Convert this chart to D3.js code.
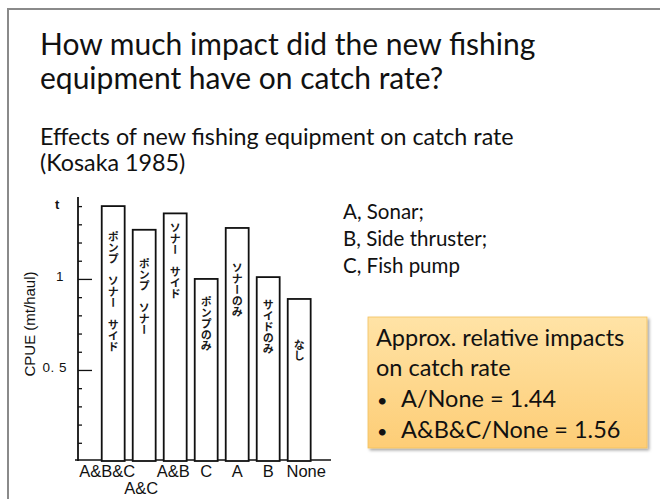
<!DOCTYPE html>
<html>
<head>
<meta charset="utf-8">
<script src="https://cdn.jsdelivr.net/npm/d3@7"></script>
<style>
  body { margin: 0; background: #fff; }
  svg { display: block; }
  .slide { font-family: Lato, "Open Sans", sans-serif; fill: #111; }
  .scan { font-family: "Liberation Sans", Arial, sans-serif; fill: #111; }
  .jp { font-family: "Noto Sans CJK JP", sans-serif; fill: #1a1a1a; }
</style>
</head>
<body>
<div id="chart"></div>
<script>
// categories along the x axis (second row label for A&C)
var cats = ["A&B&C", "A&C", "A&B", "C", "A", "B", "None"];
// CPUE values (mt/haul)
var cpue = [1.40, 1.27, 1.36, 1.00, 1.28, 1.01, 0.89];
// japanese labels written inside the bars
var jpLabels = ["ポンプ　ソナー　サイド", "ポンプ　ソナー", "ソナー　サイド", "ポンプのみ", "ソナーのみ", "サイドのみ", "なし"];
// y ticks
var minorTicks = [0.1, 0.2, 0.3, 0.4, 0.6, 0.7, 0.8, 0.9, 1.1, 1.2, 1.3, 1.4];
var majorTicks = [0.5, 1];
var tickText = ["0. 5", "1"];
// legend + notes text
var legendLines = ["A, Sonar;", "B, Side thruster;", "C, Fish pump"];
var boxHead = ["Approx. relative impacts", "on catch rate"];
var boxBullets = ["A/None = 1.44", "A&B&C/None = 1.56"];

// layout nudges (px) - where the scan put the inner text / labels
var jpDy = [25, 29, 9, 17, 34, 22, 40];
var labelDx = [-6, -3, -2, 0, 0, 0, 7];

var W = 660, H = 499;

var svg = d3.select("#chart").append("svg")
    .attr("width", W)
    .attr("height", H);

// gradient + shadow for the note box
var defs = svg.append("defs");
var grad = defs.append("linearGradient").attr("id", "gold")
    .attr("x1", 0).attr("y1", 0).attr("x2", 0).attr("y2", 1);
grad.append("stop").attr("offset", "0%").attr("stop-color", "#ffe3a6");
grad.append("stop").attr("offset", "100%").attr("stop-color", "#fdcd76");
var sh = defs.append("filter").attr("id", "shadow")
    .attr("x", "-10%").attr("y", "-10%").attr("width", "130%").attr("height", "130%");
sh.append("feDropShadow").attr("dx", 2).attr("dy", 2).attr("stdDeviation", 1.5)
    .attr("flood-color", "#000").attr("flood-opacity", 0.35);

// slide frame (cut off at right and bottom)
svg.append("rect")
    .attr("x", 8).attr("y", 9)
    .attr("width", W + 20).attr("height", H + 20)
    .attr("fill", "#fff")
    .attr("stroke", "#8a8a8a")
    .attr("stroke-width", 2);

// titles
var title = svg.append("text").attr("class", "slide").attr("font-size", 30);
title.append("tspan").attr("x", 40).attr("y", 55).text("How much impact did the new fishing");
title.append("tspan").attr("x", 40).attr("y", 89).text("equipment have on catch rate?");

var sub = svg.append("text").attr("class", "slide").attr("font-size", 23.3);
sub.append("tspan").attr("x", 40).attr("y", 145).text("Effects of new fishing equipment on catch rate");
sub.append("tspan").attr("x", 40).attr("y", 171).text("(Kosaka 1985)");

// scales
var x = d3.scaleBand()
    .domain(cats)
    .range([97.7, 314.7])
    .paddingInner(0.26)
    .paddingOuter(0.13);

var y = d3.scaleLinear()
    .domain([0, 1.45])
    .range([461, 197]);

var g = svg.append("g");

// y axis: minor ticks, major ticks pointing into the plot
g.append("g")
    .attr("transform", "translate(78,0)")
    .call(d3.axisRight(y).tickValues(minorTicks).tickSize(4).tickFormat(""))
    .call(a => a.select(".domain").remove());

g.append("g")
    .attr("transform", "translate(78,0)")
    .call(d3.axisRight(y).tickValues(majorTicks).tickSize(14).tickFormat(""))
    .call(a => a.select(".domain").remove());

g.selectAll("line").attr("stroke", "#111").attr("stroke-width", 1.3);

g.append("line")
    .attr("x1", 78).attr("x2", 78)
    .attr("y1", y(1.45)).attr("y2", y(0))
    .attr("stroke", "#111").attr("stroke-width", 1.8);

// baseline
g.append("line")
    .attr("x1", 75).attr("x2", 331)
    .attr("y1", y(0) - 1).attr("y2", y(0) - 1)
    .attr("stroke", "#111").attr("stroke-width", 1.6);

// tick labels on the left
g.selectAll(".tl")
    .data(majorTicks)
    .enter().append("text")
    .attr("class", "scan")
    .attr("font-size", 13.5)
    .attr("text-anchor", "end")
    .attr("x", (d, i) => i == 0 ? 67 : 64)
    .attr("y", d => y(d) + 2)
    .attr("letter-spacing", 0.5)
    .text((d, i) => tickText[i]);

// unit label
g.append("text")
    .attr("class", "scan")
    .attr("font-family", "'Liberation Serif', serif")
    .attr("font-size", 13)
    .attr("font-weight", "bold")
    .attr("x", 55).attr("y", 209)
    .text("t");

// y axis title
g.append("text")
    .attr("class", "scan")
    .attr("font-size", 15)
    .attr("text-anchor", "middle")
    .attr("transform", "translate(35,324) rotate(-90)")
    .text("CPUE (mt/haul)");

// bars
g.selectAll(".bar")
    .data(cpue)
    .enter().append("rect")
    .attr("class", "bar")
    .attr("x", (d, i) => x(cats[i]))
    .attr("y", d => y(d))
    .attr("width", x.bandwidth())
    .attr("height", d => y(0) - y(d))
    .attr("fill", "#fff")
    .attr("stroke", "#111")
    .attr("stroke-width", 1.8);

// vertical japanese text inside bars
g.selectAll(".jp")
    .data(jpLabels)
    .enter().append("text")
    .attr("class", "jp")
    .attr("font-size", 11)
    .attr("font-weight", 700)
    .attr("writing-mode", "vertical-rl")
    .attr("x", (d, i) => x(cats[i]) + x.bandwidth() / 2)
    .attr("y", (d, i) => y(cpue[i]) + jpDy[i])
    .text(d => d);

// category labels, A&C dropped to a second row
g.selectAll(".cat")
    .data(cats)
    .enter().append("text")
    .attr("class", "scan")
    .attr("font-size", 16.5)
    .attr("text-anchor", "middle")
    .attr("x", (d, i) => x(d) + x.bandwidth() / 2 + labelDx[i])
    .attr("y", (d, i) => i == 1 ? 494 : 477)
    .text(d => d);

// legend
svg.selectAll(".leg")
    .data(legendLines)
    .enter().append("text")
    .attr("class", "slide")
    .attr("font-size", 20.5)
    .attr("x", 343)
    .attr("y", (d, i) => 219 + i * 27)
    .text(d => d);

// note box
var box = svg.append("g");
box.append("rect")
    .attr("x", 368).attr("y", 317)
    .attr("width", 279).attr("height", 131)
    .attr("fill", "url(#gold)")
    .attr("stroke", "#f3c15e")
    .attr("stroke-width", 0.8)
    .attr("filter", "url(#shadow)");

box.selectAll(".bh")
    .data(boxHead)
    .enter().append("text")
    .attr("class", "slide")
    .attr("font-size", 23.5)
    .attr("x", 376)
    .attr("y", (d, i) => 346 + i * 30)
    .text(d => d);

box.selectAll(".bb")
    .data(boxBullets)
    .enter().append("text")
    .attr("class", "slide")
    .attr("font-size", 23.5)
    .attr("y", (d, i) => 407 + i * 31)
    .call(t => t.append("tspan").attr("x", 377).attr("font-size", 18).text("•"))
    .call(t => t.append("tspan").attr("x", 401).text(d => d));
</script>
</body>
</html>
